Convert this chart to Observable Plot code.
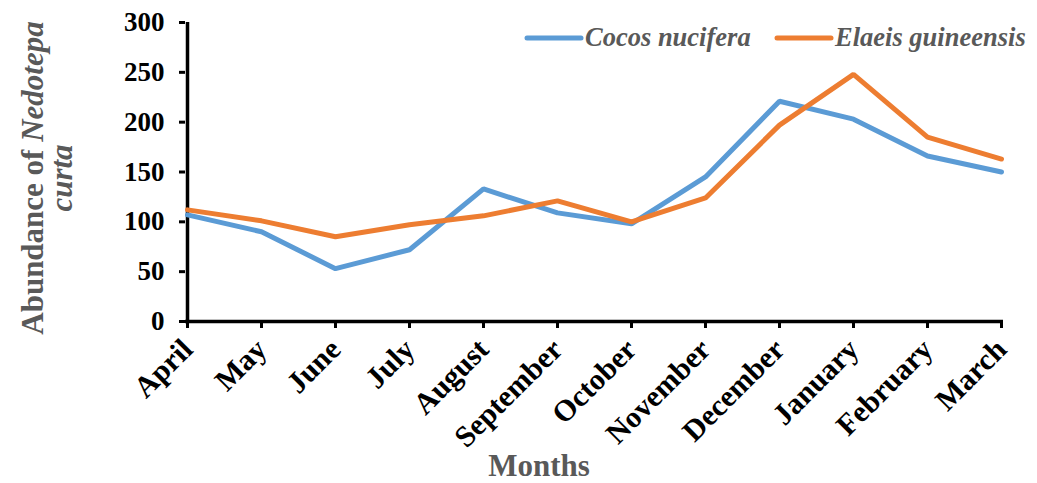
<!DOCTYPE html>
<html><head><meta charset="utf-8">
<script src="https://cdn.jsdelivr.net/npm/d3@7"></script>
<script src="https://cdn.jsdelivr.net/npm/@observablehq/plot@0.6"></script>
<style>body{margin:0;background:#fff}</style>
</head><body><div id="chart"></div>
<script>
const months = ["April","May","June","July","August","September","October","November","December","January","February","March"];
const cocos = [107, 90, 53, 72, 133, 109, 98, 145, 221, 203, 166, 150];
const elaeis = [112, 101, 85, 97, 106, 121, 100, 124, 197, 248, 185, 163];
const yTicks = [0, 50, 100, 150, 200, 250, 300];
const seriesNames = ["Cocos nucifera", "Elaeis guineensis"];
const seriesColors = ["#5B9BD5", "#ED7D31"];

const data = months.flatMap((m, i) => [
  {month: m, value: cocos[i], series: seriesNames[0]},
  {month: m, value: elaeis[i], series: seriesNames[1]}
]);

const font = "'Liberation Serif', 'Times New Roman', serif";
const plot = Plot.plot({
  width: 1037, height: 483,
  marginLeft: 185, marginRight: 34, marginTop: 22, marginBottom: 162,
  style: {fontFamily: font, background: "#fff", color: "#000"},
  x: {type: "point", domain: months, padding: 0},
  y: {domain: [0, 300]},
  color: {domain: seriesNames, range: seriesColors},
  marks: [
    Plot.axisY({ticks: yTicks, tickSize: 6, tickPadding: 15, strokeWidth: 3, fontSize: 27, fontWeight: "bold", fill: "#000", label: null}),
    Plot.axisX({tickSize: 7, tickPadding: 16, tickRotate: -45, fontSize: 30, fontWeight: "bold", strokeWidth: 3, fill: "#000", label: null}),
    Plot.ruleY([0], {strokeWidth: 3.5, stroke: "#000"}),
    Plot.ruleX([months[0]], {strokeWidth: 3.5, stroke: "#000"}),
    Plot.line(data, {x: "month", y: "value", z: "series", stroke: "series", strokeWidth: 5, strokeLinejoin: "miter"})
  ]
});
document.getElementById("chart").appendChild(plot);

const svg = d3.select(plot);
const gray = "#595959";
// Legend
const legend = [
  {name: seriesNames[0], color: seriesColors[0], x: 527},
  {name: seriesNames[1], color: seriesColors[1], x: 777}
];
legend.forEach(l => {
  svg.append("line").attr("x1", l.x).attr("x2", l.x + 54).attr("y1", 38).attr("y2", 38)
    .attr("stroke", l.color).attr("stroke-width", 5).attr("stroke-linecap", "round");
  svg.append("text").attr("x", l.x + 58).attr("y", 46).attr("text-anchor", "start")
    .attr("font-family", font).attr("font-size", 26.5).attr("font-weight", "bold").attr("font-style", "italic")
    .attr("fill", gray).text(l.name);
});
// Y title
const yt = svg.append("text").attr("transform", "translate(43,178) rotate(-90)")
  .attr("text-anchor", "middle").attr("font-family", font).attr("font-size", 31).attr("font-weight", "bold").attr("fill", gray);
yt.append("tspan").text("Abundance of ");
yt.append("tspan").attr("font-style", "italic").text("Nedotepa");
svg.append("text").attr("transform", "translate(72,178) rotate(-90)")
  .attr("text-anchor", "middle").attr("font-family", font).attr("font-size", 31).attr("font-weight", "bold")
  .attr("font-style", "italic").attr("fill", gray).text("curta");
// X title
svg.append("text").attr("x", 539).attr("y", 476).attr("text-anchor", "middle")
  .attr("font-family", font).attr("font-size", 31).attr("font-weight", "bold").attr("fill", gray).text("Months");
</script></body></html>
